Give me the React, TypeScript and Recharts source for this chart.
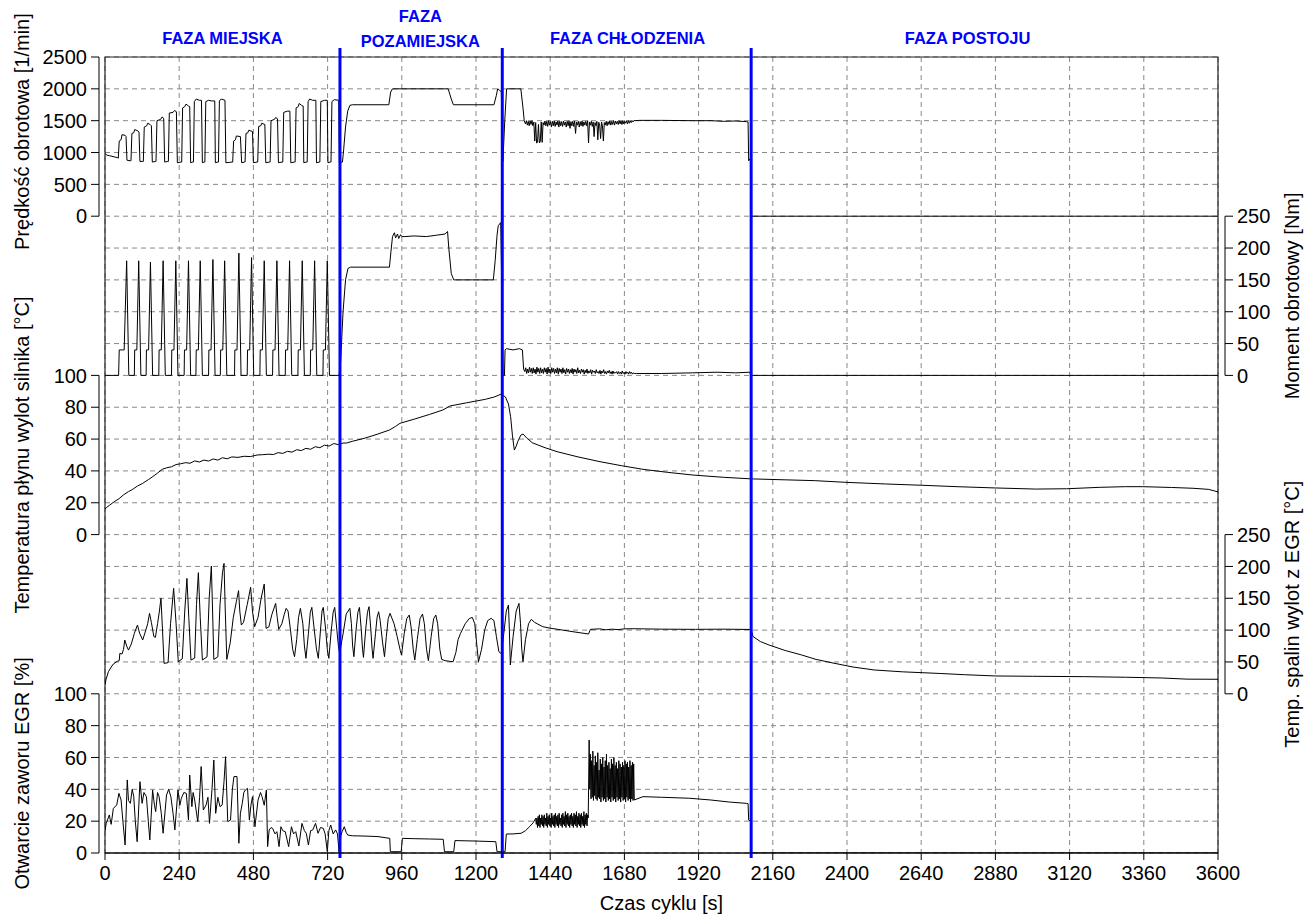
import React from "react";
import {
  ComposedChart,
  Line,
  XAxis,
  YAxis,
  CartesianGrid,
  ReferenceLine,
  ReferenceArea,
} from "recharts";

// layout
const W = 1314;
const H = 916;
const PLOT_L = 105;
const PLOT_R = 1218;
const PLOT_T = 57;
const PLOT_B = 853;
const PANEL_H = (PLOT_B - PLOT_T) / 5;
const FONT = "'Liberation Sans', Arial, sans-serif";
const FS = 20;
const BLUE = "#0000ff";

// axes
const timeTicks = [0, 240, 480, 720, 960, 1200, 1440, 1680, 1920, 2160, 2400, 2640, 2880, 3120, 3360, 3600];
const rpmTicks = [0, 500, 1000, 1500, 2000, 2500];
const torqueTicks = [0, 50, 100, 150, 200, 250];
const coolantTicks = [0, 20, 40, 60, 80, 100];
const egrTempTicks = [0, 50, 100, 150, 200, 250];
const valveTicks = [0, 20, 40, 60, 80, 100];
const gridTicks = [0, 1, 2, 3, 4, 5, 6, 7, 8, 9, 10, 11, 12, 13, 14, 15, 16, 17, 18, 19, 20, 21, 22, 23, 24, 25];

// phase boundaries [s] and labels
const phaseBounds = [760, 1285, 2090];
const phaseLabels = [
  { t: 380, lines: ["FAZA MIEJSKA"] },
  { t: 1020, lines: ["FAZA", "POZAMIEJSKA"] },
  { t: 1690, lines: ["FAZA CHŁODZENIA"] },
  { t: 2790, lines: ["FAZA POSTOJU"] },
];

// [time s, rpm] - urban + extra-urban part
const speedHead: [number, number][] = [
  [0, 990], [5, 960], [15, 950], [40, 920],
  [43, 910], [46, 1180], [52, 1200], [55, 1280], [65, 1270], [68, 1250], [71, 880], [82, 870],
  [84, 870], [87, 1300], [93, 1310], [96, 1360], [106, 1340], [110, 1320], [113, 860], [122, 860],
  [124, 860], [127, 1400], [135, 1420], [138, 1460], [146, 1440], [150, 1420], [153, 850], [163, 860],
  [165, 860], [168, 1500], [180, 1520], [185, 1560], [190, 1530], [193, 850], [203, 860],
  [205, 860], [208, 1620], [220, 1630], [225, 1660], [231, 1640], [234, 840], [246, 850],
  [248, 850], [251, 1700], [258, 1720], [262, 1760], [270, 1730], [274, 1720], [277, 840], [284, 850],
  [286, 850], [289, 1800], [295, 1840], [305, 1820], [312, 1820], [315, 840], [321, 850],
  [323, 850], [326, 1800], [335, 1820], [345, 1810], [355, 1810], [357, 840], [365, 850],
  [367, 850], [370, 1810], [376, 1840], [388, 1820], [391, 840], [411, 850],
  [413, 850], [416, 1180], [422, 1200], [425, 1260], [438, 1250], [442, 840], [451, 850],
  [453, 850], [456, 1300], [462, 1310], [465, 1350], [477, 1330], [480, 840], [492, 850],
  [494, 850], [497, 1410], [504, 1420], [507, 1460], [517, 1440], [520, 840], [532, 850],
  [534, 850], [537, 1500], [548, 1520], [552, 1550], [558, 1530], [561, 840], [573, 850],
  [575, 850], [578, 1630], [590, 1650], [598, 1650], [601, 840], [613, 850],
  [615, 850], [618, 1700], [625, 1720], [628, 1770], [636, 1740], [641, 1730], [643, 840], [652, 850],
  [654, 850], [657, 1800], [662, 1840], [672, 1820], [682, 1820], [684, 840], [693, 850],
  [695, 850], [698, 1800], [710, 1820], [719, 1820], [721, 840], [729, 850],
  [731, 850], [734, 1800], [742, 1830], [756, 1820], [758, 840], [768, 850],
  [772, 1050], [778, 1400], [785, 1650], [792, 1740], [800, 1750], [918, 1750], [924, 1950], [930, 2000],
  [1110, 2000], [1120, 1840], [1127, 1750], [1258, 1750], [1266, 1900], [1270, 2000], [1276, 1980],
  [1282, 1950], [1287, 860], [1293, 1500], [1299, 2000], [1345, 2000], [1352, 1700], [1356, 1500],
];
// cooling phase, noisy part: sampled every 3 s from 1360 s
const speedNoiseStart = 1360;
const speedNoiseStep = 3;
const speedNoise = [
  1450, 1500, 1430, 1490, 1420, 1495, 1440, 1500, 1420, 1480,
  1180, 1470, 1150, 1160, 1440, 1150, 1170, 1480, 1160, 1470,
  1430, 1495, 1420, 1490, 1410, 1500, 1430, 1485, 1400, 1490,
  1420, 1500, 1410, 1480, 1430, 1495, 1400, 1490, 1420, 1485,
  1410, 1495, 1430, 1480, 1400, 1490, 1420, 1500, 1380, 1485,
  1420, 1490, 1410, 1495, 1300, 1480, 1430, 1490, 1400, 1485,
  1420, 1495, 1410, 1480, 1430, 1490, 1420, 1500, 1150, 1480,
  1430, 1490, 1410, 1480, 1250, 1470, 1420, 1490, 1200, 1475,
  1430, 1220, 1480, 1420, 1180, 1470, 1430, 1490, 1420, 1485,
  1440, 1495, 1430, 1490, 1440, 1500, 1430, 1495, 1450, 1490,
  1440, 1500, 1450, 1495, 1440, 1500, 1450, 1490, 1460, 1500,
  1450, 1500, 1460, 1495, 1470, 1500, 1480, 1505, 1500,
];
const speedTail: [number, number][] = [
  [1730, 1505], [1800, 1505], [1900, 1500], [1960, 1500], [2000, 1490], [2040, 1495], [2075, 1485],
  [2080, 1480], [2082, 870], [2086, 900], [2090, 850], [2091, 0], [3600, 0],
];

// [time s, Nm]
const torqueHead: [number, number][] = [
  [0, 0], [44, 0], [46, 40], [56, 40], [62, 40], [70, 180], [77, 0],
  [95, 0], [96, 40], [103, 40], [109, 180], [116, 0],
  [133, 0], [134, 40], [141, 40], [147, 178], [154, 0],
  [174, 0], [175, 40], [182, 40], [188, 180], [195, 0],
  [215, 0], [216, 40], [223, 40], [229, 180], [236, 0],
  [256, 0], [257, 40], [264, 40], [270, 180], [277, 0],
  [294, 0], [295, 40], [302, 40], [308, 180], [315, 0],
  [335, 0], [336, 40], [343, 40], [349, 182], [356, 0],
  [373, 0], [374, 40], [381, 40], [387, 180], [394, 0],
  [419, 0], [420, 40], [427, 40], [433, 192], [440, 0],
  [460, 0], [461, 40], [468, 40], [474, 185], [481, 0],
  [501, 0], [502, 40], [509, 40], [515, 180], [522, 0],
  [542, 0], [543, 40], [550, 40], [556, 180], [563, 0],
  [583, 0], [584, 40], [591, 40], [597, 180], [604, 0],
  [624, 0], [625, 40], [632, 40], [638, 180], [645, 0],
  [664, 0], [665, 40], [672, 40], [678, 180], [685, 0],
  [705, 0], [706, 40], [713, 40], [719, 180], [726, 0],
  [757, 0], [762, 20], [770, 100], [778, 150], [786, 168], [794, 170], [920, 170], [925, 195],
  [930, 218], [936, 224], [940, 216], [946, 222], [950, 215], [956, 221], [960, 218], [970, 218],
  [1000, 219], [1040, 218], [1070, 220], [1100, 222], [1108, 226], [1112, 200], [1120, 160],
  [1128, 150], [1256, 150], [1262, 180], [1268, 220], [1272, 235], [1280, 240], [1284, 120],
  [1287, 0], [1292, 0], [1294, 40], [1298, 42], [1320, 40], [1340, 42], [1350, 40], [1354, 10],
];
const torqueNoiseStart = 1358;
const torqueNoiseStep = 3;
const torqueNoise = [
  6, 12, 3, 10, 4, 13, 5, 11, 3, 12,
  4, 10, 2, 13, 5, 11, 3, 12, 4, 10,
  3, 12, 5, 11, 2, 13, 4, 10, 3, 12,
  5, 11, 3, 10, 4, 12, 2, 11, 5, 10,
  3, 12, 4, 9, 2, 11, 5, 10, 3, 9,
  4, 11, 2, 10, 5, 9, 3, 12, 4, 8,
  3, 10, 5, 9, 2, 8, 4, 10, 3, 7,
  4, 9, 2, 8, 5, 7, 3, 9, 4, 6,
  3, 8, 2, 7, 4, 9, 3, 6, 2, 7,
  4, 8, 3, 6, 2, 7, 3, 5, 4, 6,
  2, 6, 3, 5, 2, 7, 3, 5, 2, 6,
  3, 5, 2, 6, 3, 5, 2, 4, 3,
];
const torqueTail: [number, number][] = [
  [1720, 3], [1800, 3], [1900, 4], [1980, 5], [2040, 4], [2085, 5], [2090, 0], [3600, 0],
];

// [time s, °C] coolant at engine outlet
const coolant: [number, number][] = [
  [0, 16], [5, 17], [15, 18.5], [30, 20.7], [45, 22.5], [60, 25], [76, 27], [90, 28.5], [105, 30.5],
  [122, 32.2], [140, 34.5], [155, 36.5], [169, 38.5], [185, 41], [200, 42], [215, 42.6], [230, 44],
  [245, 44.5], [261, 45.2], [275, 44.8], [290, 46.3], [305, 45.6], [320, 46.8], [335, 46.2],
  [350, 47.5], [365, 46.8], [380, 48.3], [395, 47.6], [410, 48.8], [430, 48.5], [450, 49.2],
  [470, 49], [492, 50], [510, 50.2], [530, 50.5], [545, 50.3], [560, 51.5], [575, 51], [590, 52.3],
  [605, 51.8], [620, 53.3], [635, 52.8], [650, 54.2], [665, 53.6], [680, 55.2], [695, 54.6],
  [710, 56.2], [725, 55.6], [740, 57.2], [755, 56.5], [770, 57.5], [781, 57.5], [800, 58.6],
  [839, 60.5], [880, 63], [920, 65.7], [940, 68], [954, 69.9], [1000, 72.5], [1050, 75.5],
  [1093, 78.3], [1116, 80.8], [1170, 82.8], [1231, 85], [1260, 86.5], [1282, 88.3], [1295, 86.5],
  [1305, 82], [1312, 74], [1318, 62], [1324, 53.1], [1330, 55.5], [1335, 58.4], [1345, 62.5],
  [1352, 63.2], [1365, 60.5], [1382, 57.7], [1420, 54.8], [1462, 52.1], [1530, 48.8], [1601, 45.8],
  [1670, 43.3], [1740, 41], [1820, 39.1], [1902, 37.4], [2000, 36], [2091, 35], [2200, 34.4],
  [2294, 33.9], [2400, 32.8], [2525, 31.8], [2640, 31], [2756, 30.1], [2880, 29.3], [3010, 28.6],
  [3110, 28.8], [3218, 29.7], [3300, 30.1], [3357, 30.1], [3450, 29.6], [3519, 29.1], [3570, 28.4],
  [3600, 26.8],
];

// [time s, °C] exhaust gas after EGR cooler
const egrTemp: [number, number][] = [
  [0, 14], [3, 22], [11, 34.7], [20, 42], [27, 46.8], [40, 51], [46, 52], [48, 63.5], [55, 62.5],
  [60, 70], [64, 84.5], [70, 75], [76, 68.7], [85, 78], [95, 95], [105, 108], [112, 95], [122, 84.5],
  [132, 100], [138, 110], [144, 126.3], [150, 112], [158, 90], [163, 88.6], [170, 110], [176, 130],
  [181, 150], [186, 100], [191, 47.8], [204, 48.9], [212, 110], [222, 165.6], [230, 110], [237, 50.4],
  [250, 55], [258, 130], [265, 181.3], [271, 120], [278, 53], [290, 56], [296, 140], [302, 190.2],
  [308, 120], [315, 53], [330, 58], [337, 150], [344, 200.7], [348, 130], [352, 54], [365, 58],
  [372, 140], [380, 190], [385, 204.8], [389, 130], [394, 54], [405, 80], [415, 120], [425, 145],
  [432, 162], [436, 130], [441, 108], [448, 112], [460, 140], [471, 167.2], [477, 130], [484, 105.4],
  [495, 120], [505, 150], [515, 172.4], [518, 140], [521, 102.8], [530, 105], [540, 125], [552, 142],
  [557, 120], [562, 101.2], [572, 110], [580, 125], [586, 134.2], [592, 130], [600, 100], [607, 70],
  [613, 58.3], [620, 85], [626, 120], [632, 134.2], [640, 110], [645, 75], [650, 55.7], [658, 95],
  [664, 128], [669, 135.7], [677, 100], [684, 70], [690, 55.7], [697, 100], [702, 130], [706, 135.7],
  [714, 100], [719, 70], [724, 55.7], [732, 100], [738, 128], [743, 135.7], [750, 100], [755, 75],
  [759, 63.5], [772, 100], [780, 125], [792, 134.2], [797, 110], [801, 75], [805, 58.3], [812, 100],
  [818, 128], [823, 135.7], [829, 100], [833, 70], [836, 57.2], [843, 100], [849, 128], [854, 136.8],
  [860, 100], [864, 70], [867, 55.7], [875, 95], [880, 120], [885, 128.9], [890, 115], [898, 80],
  [904, 58.3], [910, 90], [916, 118], [922, 126.3], [935, 110], [945, 90], [955, 68], [959, 60.9],
  [968, 95], [976, 118], [984, 123.7], [990, 105], [997, 70], [1002, 53], [1010, 85], [1019, 118],
  [1027, 125.3], [1033, 110], [1040, 70], [1046, 52], [1055, 90], [1063, 118], [1070, 123.7],
  [1076, 110], [1083, 70], [1089, 54], [1100, 52], [1115, 51], [1126, 50.4], [1135, 65], [1142, 85],
  [1150, 94.9], [1165, 110], [1178, 118], [1188, 120], [1196, 110], [1202, 80], [1208, 50.4],
  [1218, 70], [1228, 100], [1238, 115], [1249, 118.5], [1258, 115], [1266, 90], [1274, 66.1],
  [1282, 63], [1290, 95], [1298, 130], [1305, 139.4], [1308, 100], [1311, 45.2], [1320, 90],
  [1330, 130], [1339, 142], [1344, 110], [1348, 70], [1352, 50.4], [1360, 85], [1370, 110],
  [1379, 116.9], [1390, 112], [1416, 105.4], [1440, 103], [1465, 101.2], [1520, 97], [1564, 93.9],
  [1570, 101.2], [1600, 102], [1620, 100.5], [1640, 101.5], [1660, 100.8], [1680, 102], [1712, 102.2],
  [1800, 101.5], [1910, 101.2], [2000, 101.5], [2090, 101],
  [2096, 90], [2120, 82], [2148, 76.6], [2200, 68], [2253, 61], [2300, 54], [2358, 48], [2420, 42],
  [2488, 37.4], [2580, 34.5], [2698, 32], [2780, 30], [2881, 28], [3000, 27.5], [3169, 26.9],
  [3300, 26], [3420, 24.8], [3500, 23], [3600, 22.8],
];

// [time s, %] EGR valve opening
const valveHead: [number, number][] = [
  [0, 14], [4, 18.6], [14, 23.9], [20, 18], [27, 28], [38, 30.2], [45, 37.5], [52, 33.3], [58, 19.7],
  [65, 5], [72, 45.9], [76, 33], [82, 31.2], [88, 40], [93, 35.4], [98, 20], [104, 7.1], [113, 44.8],
  [120, 31.2], [126, 38], [134, 35.4], [140, 20], [145, 8.2], [154, 39.6], [160, 30], [164, 26],
  [170, 38], [175, 35.4], [182, 25], [188, 12.4], [199, 36.4], [206, 40], [213, 35.4], [220, 25],
  [226, 14.5], [236, 39.6], [242, 30], [247, 34.4], [255, 38], [263, 37.5], [270, 20.7], [274, 49],
  [281, 29.1], [285, 38], [290, 33.3], [300, 19.7], [306, 35], [311, 54.3], [318, 27], [327, 30.2],
  [333, 35], [338, 18.6], [346, 40], [352, 58.4], [358, 24.9], [365, 35], [372, 29.1], [379, 30.2],
  [385, 45], [390, 60.5], [397, 19.7], [406, 20.7], [412, 40], [417, 48], [427, 48], [433, 6.1],
  [438, 25], [444, 31.2], [449, 38], [454, 39.6], [461, 40.6], [467, 20.7], [472, 30], [477, 35.4],
  [485, 16.5], [495, 33.3], [503, 38], [508, 35.4], [515, 30], [522, 39.6], [526, 4], [531, 14.5],
  [537, 16], [542, 15.5], [550, 12], [556, 13.4], [563, 4], [569, 16.5], [575, 14], [583, 13.4],
  [594, 4], [603, 16.5], [610, 12], [617, 13.4], [627, 4.4], [637, 18.6], [645, 14], [651, 12.4],
  [658, 5], [665, 14], [672, 14.5], [681, 18.6], [689, 12.4], [697, 16], [706, 15.5], [712, 12],
  [719, 0.8], [724, 14], [730, 17.6], [738, 12], [746, 14.5], [752, 12], [757, 0.8], [763, 11],
  [767, 13.4], [774, 16.5], [780, 13], [785, 11.3], [800, 10.8], [828, 10.7], [860, 10.5],
  [883, 10.3], [921, 9.2], [923, 0.8], [958, 0.8], [962, 9.2], [1000, 9], [1050, 8.8], [1094, 8.6],
  [1098, 0.8], [1128, 0.8], [1132, 7.8], [1200, 7.5], [1264, 7.1], [1268, 0.8], [1294, 0.8],
  [1298, 11.9], [1320, 12], [1346, 12.4], [1360, 14], [1373, 16.5], [1385, 19], [1393, 21.8],
];
// noisy parts, sampled every 2 s
const valveNoiseAStart = 1395;
const valveNoiseA = [
  18, 22, 16, 23, 17, 24, 16, 22, 18, 24,
  17, 23, 16, 24, 18, 22, 17, 25, 16, 23,
  18, 24, 17, 22, 16, 25, 18, 23, 17, 24,
  16, 25, 18, 23, 17, 24, 16, 25, 18, 22,
  17, 24, 16, 25, 18, 23, 17, 26, 16, 24,
  18, 25, 17, 23, 16, 24, 18, 25, 17, 23,
  16, 25, 18, 24, 17, 26, 16, 23, 18, 25,
  17, 24, 16, 25, 18, 23, 17, 26, 16, 24,
  18, 25, 17, 24, 22,
];
const valveNoiseBStart = 1566;
const valveNoiseB = [
  71, 40, 62, 34, 58, 35, 64, 33, 55, 36, 61,
  34, 57, 33, 63, 35, 52, 34, 59, 32, 56,
  35, 60, 33, 54, 34, 58, 32, 62, 35, 55,
  33, 57, 34, 53, 32, 59, 35, 56, 33, 60,
  34, 55, 32, 57, 35, 53, 33, 58, 34, 56,
  32, 54, 35, 57, 33, 55, 34, 58, 32, 56,
  35, 57, 33, 54, 34, 58, 32, 55, 34, 57,
  33, 56, 33.3,
];
const valveNoiseStep = 2;
const valveTail: [number, number][] = [
  [1740, 35.4], [1800, 35], [1890, 34.4], [1959, 33.3], [2020, 32], [2074, 31.2], [2080, 31],
  [2082, 20.7], [2088, 20], [2090, 0], [3600, 0],
];

const toRows = (pts: [number, number][]) => pts.map(([t, v]) => ({ t, v }));
const sampled = (start: number, step: number, vals: number[]) =>
  vals.map((v, i) => ({ t: start + i * step, v }));

const speedRows = [...toRows(speedHead), ...sampled(speedNoiseStart, speedNoiseStep, speedNoise), ...toRows(speedTail)];
const torqueRows = [...toRows(torqueHead), ...sampled(torqueNoiseStart, torqueNoiseStep, torqueNoise), ...toRows(torqueTail)];
const valveRows = [
  ...toRows(valveHead),
  ...sampled(valveNoiseAStart, valveNoiseStep, valveNoiseA),
  ...sampled(valveNoiseBStart, valveNoiseStep, valveNoiseB),
  ...toRows(valveTail),
];

const LeftTick = (props: any) => {
  const { y, payload } = props;
  const sx = PLOT_L - 6;
  return (
    <g>
      <line x1={sx - 8} x2={sx} y1={y} y2={y} stroke="#000" />
      {payload.value === 0 && <line x1={sx} x2={sx} y1={y} y2={y - PANEL_H} stroke="#000" />}
      <text x={sx - 12} y={y} dy="0.36em" textAnchor="end" fontSize={FS} fontFamily={FONT} fill="#000">
        {payload.value}
      </text>
    </g>
  );
};

const RightTick = (props: any) => {
  const { y, payload } = props;
  const sx = PLOT_R + 7;
  return (
    <g>
      <line x1={sx} x2={sx + 8} y1={y} y2={y} stroke="#000" />
      {payload.value === 0 && <line x1={sx} x2={sx} y1={y} y2={y - PANEL_H} stroke="#000" />}
      <text x={sx + 12} y={y} dy="0.36em" textAnchor="start" fontSize={FS} fontFamily={FONT} fill="#000">
        {payload.value}
      </text>
    </g>
  );
};

const AxisTitle = ({ ax, ay, text }: any) => (
  <text
    x={ax}
    y={ay}
    transform={`rotate(-90 ${ax} ${ay})`}
    textAnchor="middle"
    fontSize={FS}
    fontFamily={FONT}
    fill="#000"
  >
    {text}
  </text>
);

const PhaseLabel = ({ viewBox, lines }: any) => {
  const x = viewBox ? viewBox.x : 0;
  const base = lines.length === 1 ? [PLOT_T - 13] : [PLOT_T - 35, PLOT_T - 10];
  return (
    <text textAnchor="middle" fontSize={16.5} fontWeight="bold" fontFamily={FONT} fill={BLUE}>
      {lines.map((s: string, i: number) => (
        <tspan key={s} x={x} y={base[i]}>
          {s}
        </tspan>
      ))}
    </text>
  );
};

const XTitle = () => (
  <text x={(PLOT_L + PLOT_R) / 2} y={910} textAnchor="middle" fontSize={FS} fontFamily={FONT} fill="#000">
    Czas cyklu [s]
  </text>
);

const panelMid = (i: number) => PLOT_T + PANEL_H * (i + 0.5);

export default function App() {
  const lineProps = { dataKey: "v", type: "linear" as const, stroke: "#000", strokeWidth: 1, dot: false, isAnimationActive: false };
  return (
    <div style={{ width: W, height: H }}>
      <style>{"body{margin:0}"}</style>
      <ComposedChart width={W} height={H} margin={{ top: PLOT_T, right: 0, bottom: 0, left: 0 }}>
        <XAxis
          type="number"
          dataKey="t"
          domain={[0, 3600]}
          ticks={timeTicks}
          interval={0}
          height={H - PLOT_B}
          tickSize={7}
          tickMargin={6}
          tick={{ fontSize: FS, fill: "#000", fontFamily: FONT }}
          axisLine={{ stroke: "#000" }}
          tickLine={{ stroke: "#000" }}
          allowDataOverflow
          label={<XTitle />}
        />
        <YAxis yAxisId="grid" hide domain={[0, 25]} ticks={gridTicks} allowDataOverflow />
        <YAxis
          yAxisId="rpm" orientation="left" width={35} domain={[-10000, 2500]} ticks={rpmTicks} interval={0}
          axisLine={false} tickLine={false} tick={<LeftTick />} allowDataOverflow
          label={<AxisTitle ax={29} ay={panelMid(0) - 5} text="Prędkość obrotowa [1/min]" />}
        />
        <YAxis
          yAxisId="tc" orientation="left" width={35} domain={[-200, 300]} ticks={coolantTicks} interval={0}
          axisLine={false} tickLine={false} tick={<LeftTick />} allowDataOverflow
          label={<AxisTitle ax={29} ay={panelMid(2)} text="Temperatura płynu wylot silnika [°C]" />}
        />
        <YAxis
          yAxisId="egr" orientation="left" width={35} domain={[0, 500]} ticks={valveTicks} interval={0}
          axisLine={false} tickLine={false} tick={<LeftTick />} allowDataOverflow
          label={<AxisTitle ax={29} ay={panelMid(4)} text="Otwarcie zaworu EGR [%]" />}
        />
        <YAxis
          yAxisId="nm" orientation="right" width={48} domain={[-750, 500]} ticks={torqueTicks} interval={0}
          axisLine={false} tickLine={false} tick={<RightTick />} allowDataOverflow
          label={<AxisTitle ax={1299} ay={panelMid(1)} text="Moment obrotowy [Nm]" />}
        />
        <YAxis
          yAxisId="tegr" orientation="right" width={48} domain={[-250, 1000]} ticks={egrTempTicks} interval={0}
          axisLine={false} tickLine={false} tick={<RightTick />} allowDataOverflow
          label={<AxisTitle ax={1299} ay={panelMid(3)} text="Temp. spalin wylot z EGR [°C]" />}
        />
        <CartesianGrid yAxisId="grid" stroke="#888" strokeDasharray="5 4" />

        <Line {...lineProps} yAxisId="rpm" data={speedRows} />
        <Line {...lineProps} yAxisId="nm" data={torqueRows} />
        <Line {...lineProps} yAxisId="tc" data={toRows(coolant)} />
        <Line {...lineProps} yAxisId="tegr" data={toRows(egrTemp)} />
        <Line {...lineProps} yAxisId="egr" data={valveRows} />

        <ReferenceArea yAxisId="grid" x1={0} x2={3600} y1={0} y2={25} fill="none" stroke="#222" strokeWidth={1.2} ifOverflow="visible" />

        {phaseBounds.map((b) => (
          <ReferenceLine
            key={b}
            yAxisId="grid"
            segment={[{ x: b, y: -0.16 }, { x: b, y: 25.28 }]}
            stroke={BLUE}
            strokeWidth={3}
            ifOverflow="visible"
          />
        ))}
        {phaseLabels.map((p) => (
          <ReferenceLine
            key={p.t}
            yAxisId="grid"
            x={p.t}
            stroke="none"
            label={<PhaseLabel lines={p.lines} />}
          />
        ))}
      </ComposedChart>
    </div>
  );
}
